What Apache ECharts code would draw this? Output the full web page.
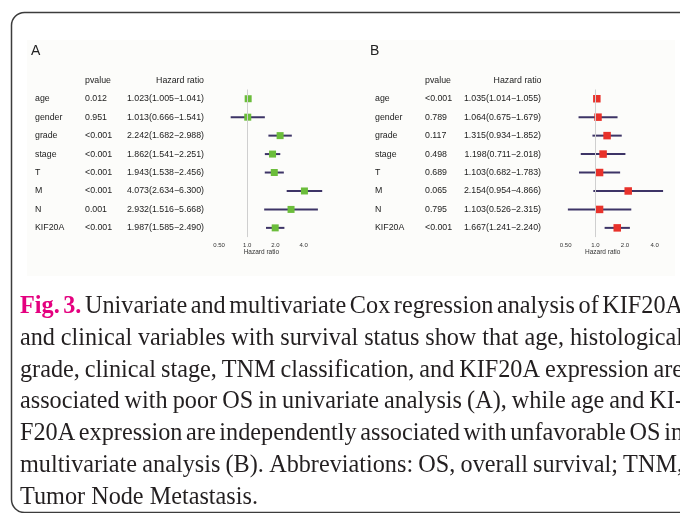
<!DOCTYPE html>
<html>
<head>
<meta charset="utf-8">
<script src="https://cdn.jsdelivr.net/npm/echarts@6/dist/echarts.min.js"></script>
<style>
  html, body { margin: 0; padding: 0; background: #ffffff; }
  #chart { width: 680px; height: 513px; }
</style>
</head>
<body>
<div id="chart"></div>
<script>
// Variables entered in the Cox models
const variables = ['age', 'gender', 'grade', 'stage', 'T', 'M', 'N', 'KIF20A'];

// (A) univariate Cox regression
const uniP    = ['0.012', '0.951', '<0.001', '<0.001', '<0.001', '<0.001', '0.001', '<0.001'];
const uniHR   = [1.023, 1.013, 2.242, 1.862, 1.943, 4.073, 2.932, 1.987];
const uniLow  = [1.005, 0.666, 1.682, 1.541, 1.538, 2.634, 1.516, 1.585];
const uniHigh = [1.041, 1.541, 2.988, 2.251, 2.456, 6.300, 5.668, 2.490];

// (B) multivariate Cox regression
const multiP    = ['<0.001', '0.789', '0.117', '0.498', '0.689', '0.065', '0.795', '<0.001'];
const multiHR   = [1.035, 1.064, 1.315, 1.198, 1.103, 2.154, 1.103, 1.667];
const multiLow  = [1.014, 0.675, 0.934, 0.711, 0.682, 0.954, 0.526, 1.241];
const multiHigh = [1.055, 1.679, 1.852, 2.018, 1.783, 4.866, 2.315, 2.240];

// Hazard-ratio axis ticks
const hrTicks = [0.5, 1, 2, 4];
const hrTickLabels = ['0.50', '1.0', '2.0', '4.0'];

// Figure caption, one entry per printed line
const captionLines = [
  'Fig. 3. Univariate and multivariate Cox regression analysis of KIF20A',
  'and clinical variables with survival status show that age, histological',
  'grade, clinical stage, TNM classification, and KIF20A expression are',
  'associated with poor OS in univariate analysis (A), while age and KI-',
  'F20A expression are independently associated with unfavorable OS in',
  'multivariate analysis (B). Abbreviations: OS, overall survival; TNM,',
  'Tumor Node Metastasis.'
];

const sans = '"Liberation Sans", Arial, Helvetica, sans-serif';
const serif = '"Liberation Serif", "Times New Roman", serif';
const TABLE_FONT = 8.8;

function hrText(hr, lo, hi) {
  return hr.toFixed(3) + '(' + lo.toFixed(3) + '\u2212' + hi.toFixed(3) + ')';
}
const uniText = variables.map((v, i) => hrText(uniHR[i], uniLow[i], uniHigh[i]));
const multiText = variables.map((v, i) => hrText(multiHR[i], multiLow[i], multiHigh[i]));

function tickLabel(v) {
  const k = hrTicks.findIndex(t => Math.abs(t - v) < 1e-6);
  return k < 0 ? '' : hrTickLabels[k];
}

// ---- grids: one per panel ----
const grids = [
  { left: 219, top: 89.5, width: 84.7, height: 147.6 },
  { left: 565.7, top: 89.5, width: 89, height: 147.6 }
];

function hrAxis(gi, namePadding) {
  return {
    type: 'log', logBase: 2, gridIndex: gi, min: 0.5, max: 4,
    splitLine: { show: false },
    axisLine: { lineStyle: { color: '#3a3a3a', width: 1.2 } },
    axisTick: { inside: true, length: 3, lineStyle: { color: '#3a3a3a', width: 1 } },
    axisLabel: { fontSize: 6, fontFamily: sans, color: '#333', margin: 5, formatter: tickLabel },
    name: 'Hazard ratio', nameLocation: 'middle', nameGap: 11.5,
    nameTextStyle: { fontSize: 6.5, fontFamily: sans, color: '#333', padding: namePadding }
  };
}

function tableAxis(gi, texts, margin, align) {
  return {
    type: 'category', gridIndex: gi, position: 'left', offset: 0, inverse: true,
    data: variables,
    axisLine: { show: false }, axisTick: { show: false }, splitLine: { show: false },
    axisLabel: {
      interval: 0, margin: margin, align: align, fontSize: TABLE_FONT, fontFamily: sans,
      color: '#222', formatter: (v, i) => texts[i]
    }
  };
}

function panelSeries(gi, lows, highs, hrs, color, boxSize) {
  const yi = gi * 3;
  return [
    {
      type: 'line', xAxisIndex: gi, yAxisIndex: yi, data: [], silent: true, z: 1,
      markLine: {
        silent: true, symbol: 'none', animation: false, label: { show: false },
        lineStyle: { color: '#cfcfcf', width: 1, type: 'solid' },
        data: [{ xAxis: 1 }]
      }
    },
    {
      type: 'custom', xAxisIndex: gi, yAxisIndex: yi, clip: false, z: 2, silent: true,
      data: variables.map((v, i) => [lows[i], highs[i], i]),
      encode: { x: [0, 1], y: 2 },
      renderItem: (params, api) => {
        const a = api.coord([api.value(0), api.value(2)]);
        const b = api.coord([api.value(1), api.value(2)]);
        return {
          type: 'line',
          shape: { x1: a[0], y1: a[1], x2: b[0], y2: b[1] },
          style: { stroke: '#3d3466', lineWidth: 2 }
        };
      }
    },
    {
      type: 'scatter', xAxisIndex: gi, yAxisIndex: yi, z: 3, silent: true, clip: false,
      symbol: 'rect', symbolSize: boxSize,
      itemStyle: { color: color, opacity: 1 },
      data: variables.map((v, i) => [hrs[i], i])
    }
  ];
}

// ---- caption, laid out as justified lines ----
const measureCtx = document.createElement('canvas').getContext('2d');
function textWidth(str, font) { measureCtx.font = font; return measureCtx.measureText(str).width; }

const CAPTION_LEFT = 20, CAPTION_RIGHT = 683, CAPTION_BASE = 315, CAPTION_STEP = 31.8;
const CAPTION_SIZE = 25.5, CAPTION_SCALE = 0.95;

function captionElements() {
  const els = [];
  captionLines.forEach((line, li) => {
    const words = line.split(' ');
    const lead = words.map((w, wi) => li === 0 && wi < 2);
    const fonts = lead.map(b => (b ? 'bold ' : '') + CAPTION_SIZE + 'px ' + serif);
    const widths = words.map((w, wi) => textWidth(w, fonts[wi]) * CAPTION_SCALE);
    const total = widths.reduce((a, b) => a + b, 0);
    const last = li === captionLines.length - 1;
    const gap = last ? textWidth(' ', fonts[fonts.length - 1]) * CAPTION_SCALE
                     : (CAPTION_RIGHT - CAPTION_LEFT - total) / (words.length - 1);
    const y = CAPTION_BASE + li * CAPTION_STEP - 0.3375 * CAPTION_SIZE;
    let x = CAPTION_LEFT;
    words.forEach((w, wi) => {
      els.push({
        type: 'text', x: x, y: y, scaleX: CAPTION_SCALE, silent: true, z: 5,
        style: {
          text: w, font: fonts[wi], fill: lead[wi] ? '#e4007f' : '#231f20',
          textAlign: 'left', textVerticalAlign: 'middle'
        }
      });
      x += widths[wi] + gap;
    });
  });
  return els;
}

function label(text, x, y, size, align) {
  return {
    type: 'text', x: x, y: y, silent: true, z: 5,
    style: { text: text, font: size + 'px ' + sans, fill: '#222', textAlign: align, textVerticalAlign: 'middle' }
  };
}

const graphics = [
  { type: 'rect', silent: true, z: -10, shape: { x: 27, y: 40, width: 648, height: 236 }, style: { fill: '#fcfcfa' } },
  { type: 'rect', silent: true, z: -5, shape: { x: 11.5, y: 12.5, width: 720, height: 500, r: 13 },
    style: { fill: 'none', stroke: '#3c3c3c', lineWidth: 1.5 } },
  label('A', 31, 51, 14, 'left'),
  label('B', 370, 51, 14, 'left'),
  label('pvalue', 85, 80.5, TABLE_FONT, 'left'),
  label('Hazard ratio', 204, 80.5, TABLE_FONT, 'right'),
  label('pvalue', 425, 80.5, TABLE_FONT, 'left'),
  label('Hazard ratio', 541.5, 80.5, TABLE_FONT, 'right')
].concat(captionElements());

const chart = echarts.init(document.getElementById('chart'), null, { renderer: 'canvas' });
chart.setOption({
  animation: false,
  backgroundColor: '#ffffff',
  grid: grids,
  xAxis: [hrAxis(0, [0, 0, 0, 0]), hrAxis(1, [0, 15, 0, 0])],
  yAxis: [
    tableAxis(0, variables, 219 - 35, 'left'),
    tableAxis(0, uniP, 219 - 85, 'left'),
    tableAxis(0, uniText, 219 - 204, 'right'),
    tableAxis(1, variables, 565.7 - 375, 'left'),
    tableAxis(1, multiP, 565.7 - 425, 'left'),
    tableAxis(1, multiText, 565.7 - 541, 'right')
  ],
  series: panelSeries(0, uniLow, uniHigh, uniHR, '#6bbd3b', 7)
    .concat(panelSeries(1, multiLow, multiHigh, multiHR, '#e8322b', 7.5)),
  graphic: { elements: graphics }
});
</script>
</body>
</html>
